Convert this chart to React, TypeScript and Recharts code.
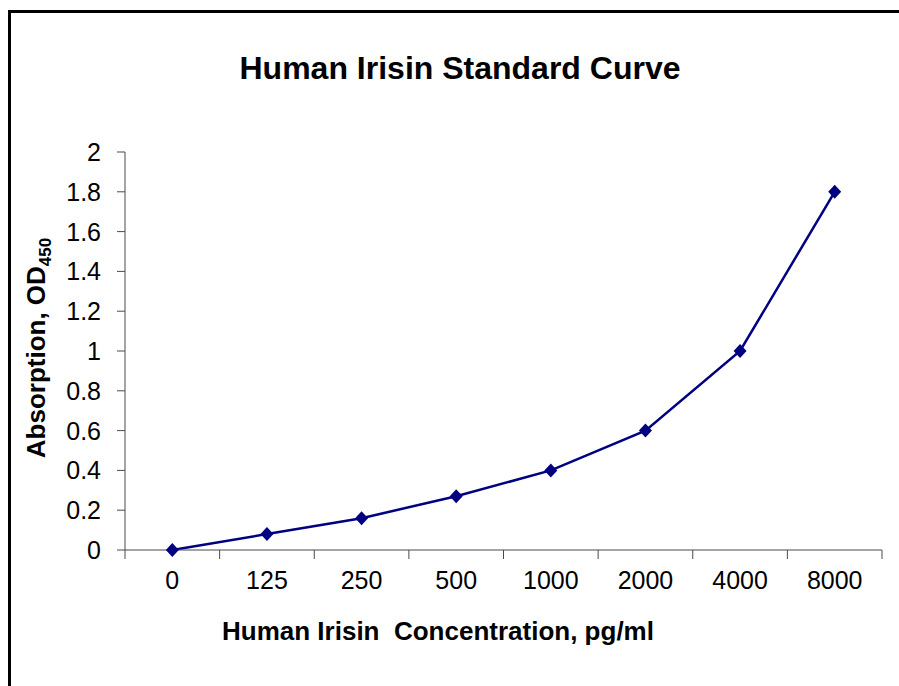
import React from "react";
import { LineChart, Line, XAxis, YAxis, Label } from "recharts";

const categories = ["0", "125", "250", "500", "1000", "2000", "4000", "8000"];
const absorbance = [0, 0.08, 0.16, 0.27, 0.4, 0.6, 1.0, 1.8];
const yTicks = [0, 0.2, 0.4, 0.6, 0.8, 1, 1.2, 1.4, 1.6, 1.8, 2];

const data = categories.map((c, i) => ({ conc: c, od: absorbance[i] }));

const FONT = '"Liberation Sans", Arial, sans-serif';
const W = 899;
const H = 686;
const PLOT_LEFT = 125;
const PLOT_RIGHT = 17;
const PLOT_TOP = 152;
const PLOT_BOTTOM_Y = 550;
const HALF_BAND = (W - PLOT_LEFT - PLOT_RIGHT) / categories.length / 2;
const AXIS_COLOR = "#4a4a4a";

const XTick = (props: any) => {
  const { x, y, payload, index } = props;
  return (
    <g>
      <line x1={x - HALF_BAND} x2={x - HALF_BAND} y1={y - 9} y2={y} stroke={AXIS_COLOR} strokeWidth={1} />
      {index === categories.length - 1 && (
        <line x1={x + HALF_BAND} x2={x + HALF_BAND} y1={y - 9} y2={y} stroke={AXIS_COLOR} strokeWidth={1} />
      )}
      <text x={x} y={y + 30} textAnchor="middle" fontFamily={FONT} fontSize={25} fill="#000">
        {payload.value}
      </text>
    </g>
  );
};

const YTick = (props: any) => {
  const { x, y, payload } = props;
  return (
    <text x={x} y={y + 9} textAnchor="end" fontFamily={FONT} fontSize={25} fill="#000">
      {payload.value}
    </text>
  );
};

const Diamond = (props: any) => {
  const { cx, cy } = props;
  if (cx == null || cy == null) return null;
  const s = 7;
  return <path d={`M${cx},${cy - s}L${cx + s - 0.5},${cy}L${cx},${cy + s}L${cx - s + 0.5},${cy}Z`} fill="#000080" stroke="none" />;
};

const YLabel = () => (
  <text
    x={45}
    y={348}
    transform="rotate(-90 45 348)"
    textAnchor="middle"
    fontFamily={FONT}
    fontSize={26}
    fontWeight="bold"
    fill="#000"
  >
    Absorption, OD
    <tspan fontSize={17} dy={6}>450</tspan>
  </text>
);

const XLabel = () => (
  <text x={438} y={640} textAnchor="middle" fontFamily={FONT} fontSize={26} fontWeight="bold" fill="#000" style={{ whiteSpace: "pre" }}>
    {"Human Irisin  Concentration, pg/ml"}
  </text>
);

export default function App() {
  return (
    <div style={{ position: "absolute", left: 0, top: 0, width: W, height: H, background: "#fff", overflow: "hidden" }}>
      <div
        style={{
          position: "absolute",
          left: 8,
          top: 10,
          width: W + 20,
          height: H + 20,
          borderLeft: "3px solid #000",
          borderTop: "3px solid #000",
          boxSizing: "border-box",
        }}
      />
      <div
        style={{
          position: "absolute",
          left: 0,
          width: 920,
          top: 50,
          textAlign: "center",
          fontFamily: FONT,
          fontSize: 32,
          fontWeight: "bold",
          lineHeight: "37px",
          color: "#000",
        }}
      >
        Human Irisin Standard Curve
      </div>
      <div style={{ position: "absolute", left: 0, top: 0 }}>
        <LineChart
          width={W}
          height={H}
          data={data}
          margin={{ top: PLOT_TOP, right: PLOT_RIGHT, bottom: 0, left: 0 }}
        >
          <XAxis
            dataKey="conc"
            type="category"
            height={H - PLOT_BOTTOM_Y}
            padding={{ left: HALF_BAND, right: HALF_BAND }}
            axisLine={{ stroke: AXIS_COLOR, strokeWidth: 1 }}
            tickLine={false}
            tickSize={9}
            tickMargin={0}
            tick={<XTick />}
            interval={0}
          >
            <Label content={<XLabel />} />
          </XAxis>
          <YAxis
            type="number"
            domain={[0, 2]}
            ticks={yTicks}
            width={PLOT_LEFT}
            axisLine={{ stroke: AXIS_COLOR, strokeWidth: 1 }}
            tickLine={{ stroke: AXIS_COLOR, strokeWidth: 1 }}
            tickSize={8}
            tickMargin={16}
            tick={<YTick />}
            interval={0}
          >
            <Label content={<YLabel />} />
          </YAxis>
          <Line
            dataKey="od"
            stroke="#000080"
            strokeWidth={2.5}
            dot={<Diamond />}
            activeDot={false}
            isAnimationActive={false}
          />
        </LineChart>
      </div>
    </div>
  );
}
